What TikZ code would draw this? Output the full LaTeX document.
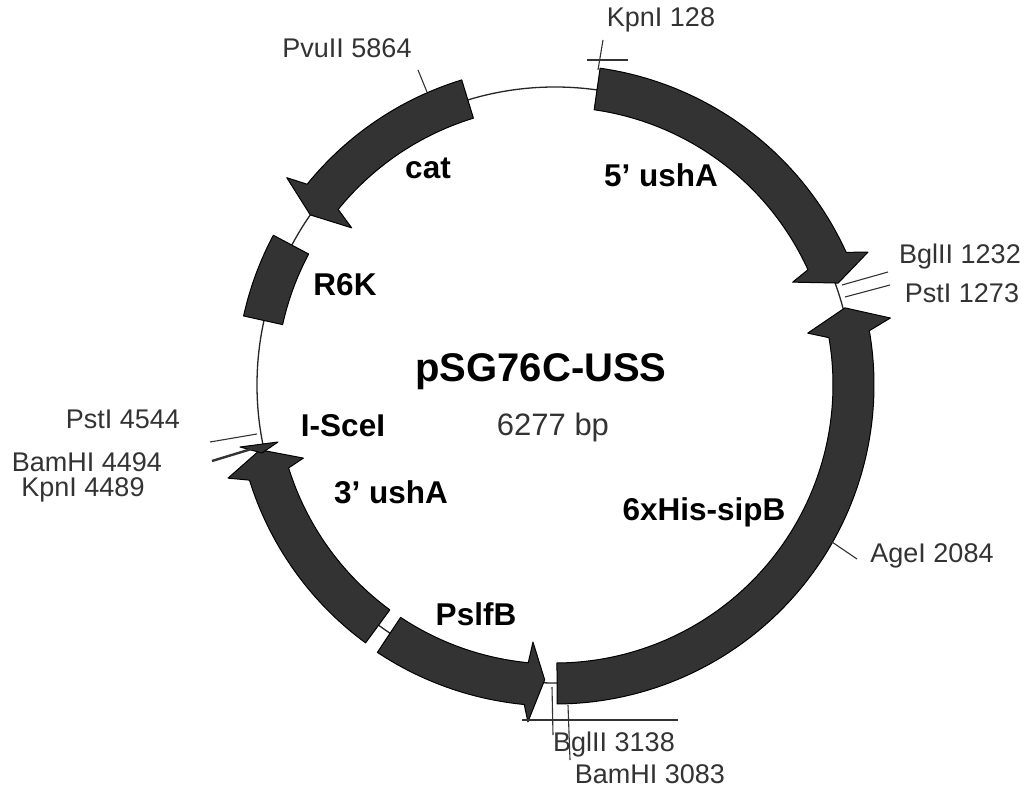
\documentclass[tikz,border=0pt]{standalone}
\usepackage{fontspec}
\setmainfont[Ligatures=ResetAll]{Liberation Sans}
\tikzset{
  x=1pt,y=1pt,
  seg/.style={fill=black!80,draw=black,line width=1pt,line join=round},
  backbone/.style={draw=black!85,line width=1.3pt},
  tick/.style={draw=black!80,line width=1.1pt},
  heavytick/.style={draw=black!80,line width=2.4pt},
  site/.style={inner sep=0pt,text=black!80,font=\fontsize{27}{30}\selectfont},
  gene/.style={inner sep=0pt,text=black,font=\bfseries\fontsize{31.5}{34}\selectfont},
}
\begin{document}
\begin{tikzpicture}
\useasboundingbox (0,0) rectangle (1030,-794);
\fill[white] (0,0) rectangle (1030,-794);
\begin{scope}[shift={(555,-385)}]
 \draw[backbone] (0,0) circle[radius=298];
 % 5' ushA
 \path[seg] (81.9:320) arc[start angle=81.9,end angle=24.5,radius=320] -- (23:340) -- (19.8:301) -- (23.4:259) -- (24.5:278) arc[start angle=24.5,end angle=81.9,radius=278] -- cycle;
 % 6xHis-sipB
 \path[seg] (9.8:319) arc[start angle=9.8,end angle=-89.6,radius=319] -- (-89.6:278) arc[start angle=-89.6,end angle=9.8,radius=278] -- (11.6:258) -- (14.9:300) -- (11.3:342) -- cycle;
 % PslfB
 \path[seg] (236.4:321) arc[start angle=236.4,end angle=264.5,radius=321] -- (265.4:338) -- (268:295) -- (265.1:258) -- (264.5:279) arc[start angle=264.5,end angle=236.4,radius=279] -- cycle;
 % 3' ushA
 \path[seg] (233.7:320) arc[start angle=233.7,end angle=197.3,radius=320] -- (195.9:340) -- (192.4:302) -- (196.2:262) -- (197.3:279) arc[start angle=197.3,end angle=233.7,radius=279] -- cycle;
 % R6K
 \path[seg] (152:319) arc[start angle=152,end angle=167.5,radius=319] -- (167.5:279) arc[start angle=167.5,end angle=152,radius=279] -- cycle;
 % cat
 \path[seg] (107:319) arc[start angle=107,end angle=141,radius=319] -- (142.3:339) -- (145.2:298) -- (142.3:257) -- (141:279) arc[start angle=141,end angle=107,radius=279] -- cycle;
\end{scope}
% I-SceI
\path[seg] (240,-447) -- (278,-442) -- (262,-453) -- cycle;
% site labels
\node[site] (kpn128) at (661,-20) {KpnI 128};
\node[site] (pvu) at (347,-48) {PvuII 5864};
\node[site] (bgl1232) at (960,-257) {BglII 1232};
\node[site] (pst1273) at (962,-293) {PstI 1273};
\node[site] (pst4544) at (123,-419) {PstI 4544};
\node[site] (bam4494) at (87,-462) {BamHI 4494};
\node[site] (kpn4489) at (83,-490) {KpnI 4489};
\node[site] (age) at (932,-556) {AgeI 2084};
\node[site] (bgl3138) at (614,-745) {BglII 3138};
\node[site] (bam3083) at (650,-774) {BamHI 3083};
% gene labels
\node[gene] (ushaF) at (661,-175) {5' ushA};
\node[gene] (catl) at (428,-168) {cat};
\node[gene] (r6k) at (345,-285) {R6K};
\node[gene] (sce) at (343,-426) {I-SceI};
\node[gene] (ushaT) at (391,-492) {3' ushA};
\node[gene] (psl) at (476,-614) {PslfB};
\node[gene] (sip) at (704,-512) {6xHis-sipB};
\node[inner sep=0pt,text=black,font=\bfseries\fontsize{40}{44}\selectfont] (title) at (541,-372) {pSG76C-USS};
\node[inner sep=0pt,text=black!80,font=\fontsize{31}{34}\selectfont] (size) at (553,-427) {6277 bp};
% site ticks
\coordinate (k1) at (603,-40); \coordinate (k2) at (598,-70);
\coordinate (kh1) at (587,-60); \coordinate (kh2) at (628,-60);
\draw[tick] (k1) -- (k2);
\draw[tick] (kh1) -- (kh2);
\coordinate (p1) at (418,-70); \coordinate (p2) at (427,-92);
\draw[tick] (p1) -- (p2);
\coordinate (b1) at (842,-285); \coordinate (b2) at (888,-272);
\draw[tick] (b1) -- (b2);
\coordinate (s1) at (845,-297); \coordinate (s2) at (890,-285);
\draw[tick] (s1) -- (s2);
\coordinate (pl1) at (210,-442); \coordinate (pl2) at (257,-434);
\draw[tick] (pl1) -- (pl2);
\coordinate (bl1) at (212,-461); \coordinate (bl2) at (258,-447);
\draw[heavytick] (bl1) -- (bl2);
\coordinate (a1) at (832,-542); \coordinate (a2) at (857,-559);
\draw[tick] (a1) -- (a2);
\coordinate (g1) at (552,-687); \coordinate (g2) at (553,-735);
\draw[tick] (g1) -- (g2);
\coordinate (h1) at (568,-705); \coordinate (h2) at (570,-760);
\draw[tick] (h1) -- (h2);
\coordinate (l1) at (522,-720); \coordinate (l2) at (678,-720);
\draw[tick] (l1) -- (l2);
\end{tikzpicture}
\end{document}
